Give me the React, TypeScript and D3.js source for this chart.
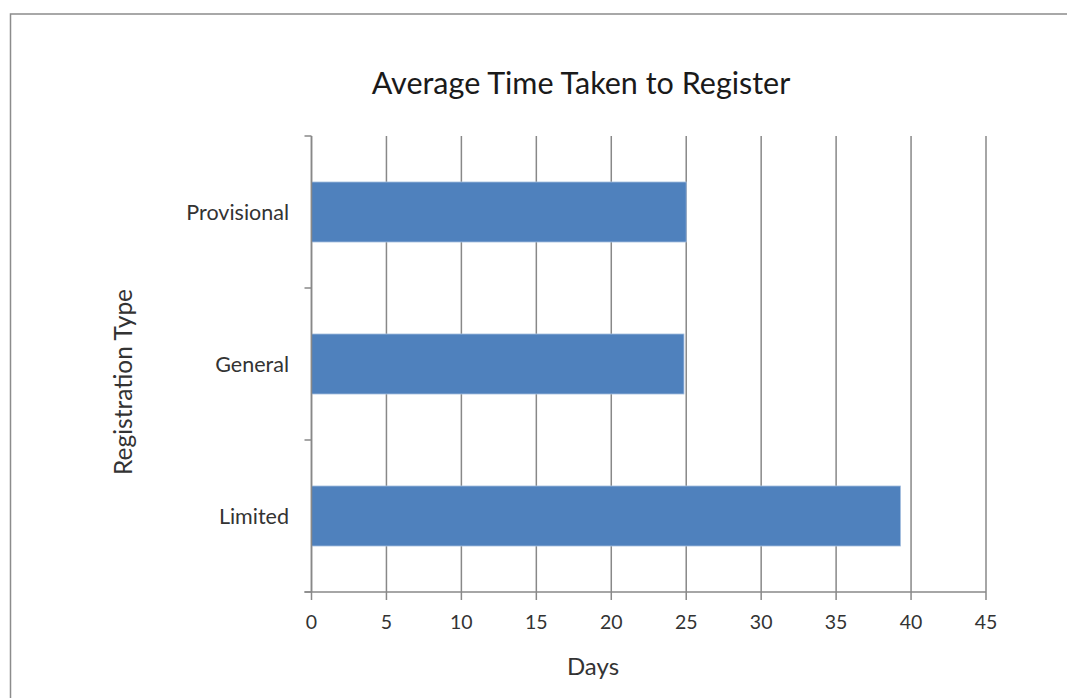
import React from "react";
import * as d3 from "d3";

const categories = ["Provisional", "General", "Limited"];
const values = [25.0, 24.85, 39.3];
const xTicks = [0, 5, 10, 15, 20, 25, 30, 35, 40, 45];
const title = "Average Time Taken to Register";
const xTitle = "Days";
const yTitle = "Registration Type";

const W = 1067, H = 698;
const left = 311.5, right = 986, top = 136, bottom = 592;
const FONT = "Lato, 'Open Sans', sans-serif";
const GRID = "#888888";
const TXT = "#333333";

export default function App() {
  const x = d3.scaleLinear().domain([0, 45]).range([left, right]);
  const y = d3.scaleBand<string>().domain(categories).range([top, bottom]).paddingInner(0.605).paddingOuter(0.3025);
  const bandEdges = d3.range(categories.length + 1).map(i => top + (i * (bottom - top)) / categories.length);
  const catSize = 21.5;
  return (
    <svg width={W} height={H} style={{ position: "absolute", left: 0, top: 0, background: "#fff" }}>
      <rect x={10.5} y={14} width={W} height={H} fill="#fff" stroke="#8c8c8c" strokeWidth={1.5} />
      <text x={581} y={93.5} textAnchor="middle" fontFamily={FONT} fontSize={30.5} fill="#1a1a1a">{title}</text>
      {xTicks.map(t => (
        <line key={"g" + t} x1={x(t)} x2={x(t)} y1={top} y2={bottom + 8} stroke={GRID} strokeWidth={1.5} />
      ))}
      {categories.map((c, i) => (
        <rect key={c} x={x(0)} y={y(c)!} width={x(values[i]) - x(0)} height={y.bandwidth()} fill="#4F81BD" stroke="#A9C1E0" strokeWidth={0.8} />
      ))}
      <line x1={left} x2={left} y1={top} y2={bottom} stroke={GRID} strokeWidth={1.5} />
      <line x1={left - 7} x2={right} y1={bottom} y2={bottom} stroke={GRID} strokeWidth={1.5} />
      {bandEdges.map((e, i) => (
        <line key={"t" + i} x1={left - 7} x2={left} y1={e} y2={e} stroke={GRID} strokeWidth={1.5} />
      ))}
      {xTicks.map(t => (
        <text key={"l" + t} x={x(t)} y={629} textAnchor="middle" fontFamily={FONT} fontSize={19.5} fill={TXT}>{t}</text>
      ))}
      {categories.map(c => (
        <text key={"c" + c} x={289} y={y(c)! + y.bandwidth() / 2 + 8} textAnchor="end" fontFamily={FONT} fontSize={catSize} fill={TXT}>{c}</text>
      ))}
      <text x={593} y={675} textAnchor="middle" fontFamily={FONT} fontSize={24} fill={TXT}>{xTitle}</text>
      <text transform={`translate(132,382) rotate(-90)`} textAnchor="middle" fontFamily={FONT} fontSize={24.5} fill={TXT}>{yTitle}</text>
    </svg>
  );
}
